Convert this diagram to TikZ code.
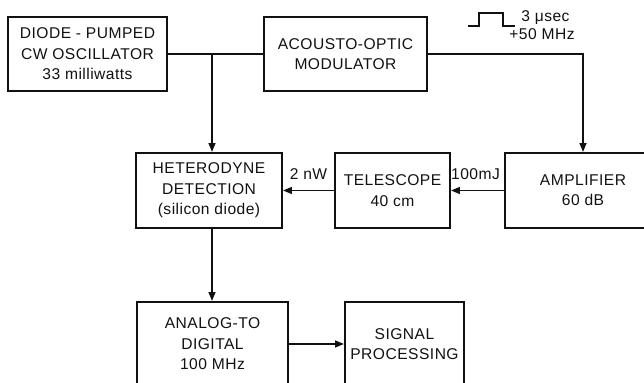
\documentclass[tikz,border=0pt]{standalone}
\usepackage{fontspec}
\setmainfont{Liberation Sans}[LetterSpace=3]
\usepackage{tikz}
\usetikzlibrary{arrows.meta,positioning,calc}
\definecolor{bdInk}{HTML}{111111}
\tikzset{
  blk/.style={draw=bdInk,line width=0.95pt,inner sep=0pt,align=center,
              font=\fontsize{7.8}{10.2}\selectfont,text=bdInk},
  wire/.style={draw=bdInk,line width=0.95pt},
  feed/.style={wire,-{Triangle[length=4.5pt,width=3.4pt]}},
  lbl/.style={font=\fontsize{7.8}{8.6}\selectfont,text=bdInk,inner sep=0pt}
}

\begin{document}
\begin{tikzpicture}[x=0.5pt,y=-0.5pt]
  \clip (0,0) rectangle (644,383);
  % blocks
  \node[blk,minimum width=79.5pt,minimum height=37pt] (osc) at (87.5,54)
    {DIODE - PUMPED\\CW OSCILLATOR\\33 milliwatts};
  \node[blk,minimum width=81.5pt,minimum height=37pt] (aom) at (345.5,54)
    {ACOUSTO-OPTIC\\MODULATOR};
  \node[blk,minimum width=73pt,minimum height=37.5pt] (het) at (209,190.5)
    {HETERODYNE\\DETECTION\\(silicon diode)};
  \node[blk,minimum width=57.5pt,minimum height=37.5pt] (tel) at (392.5,190.5)
    {TELESCOPE\\40 cm};
  \node[blk,minimum width=78pt,minimum height=37.5pt] (amp) at (583,190.5)
    {AMPLIFIER\\60 dB};
  \node[blk,minimum width=75.5pt,minimum height=42pt] (adc) at (212.5,344)
    {ANALOG-TO\\DIGITAL\\100 MHz};
  \node[blk,minimum width=59.5pt,minimum height=42pt] (sig) at (404.5,344)
    {SIGNAL\\PROCESSING};

  % connections
  \coordinate (tap) at (212,54);
  \coordinate (turn) at (583,54);
  \draw[wire] (osc.east) -- (aom.west);
  \draw[feed] (tap) -- (tap |- het.north);
  \draw[feed] (aom.east) -- (turn) -- (amp.north);
  \draw[feed] (amp.west) -- node[lbl,above=5pt,xshift=-1pt] {100mJ} (tel.east);
  \draw[feed] (tel.west) -- node[lbl,above=5pt] {2 nW} (het.east);
  \draw[feed] (het.south -| tap) -- (adc.north -| tap);
  \draw[feed] (adc.east) -- (sig.west);

  % rf pulse
  \draw[wire,line width=0.7pt] (468,26) -- (479,26) -- (479,13) -- (503,13)
    -- (503,26) -- (515,26);
  \node[lbl,anchor=west] (pw) at (521,18) {3 μsec};
  \node[lbl,anchor=west] (rf) at (509,34) {+50 MHz};
\end{tikzpicture}
\end{document}
